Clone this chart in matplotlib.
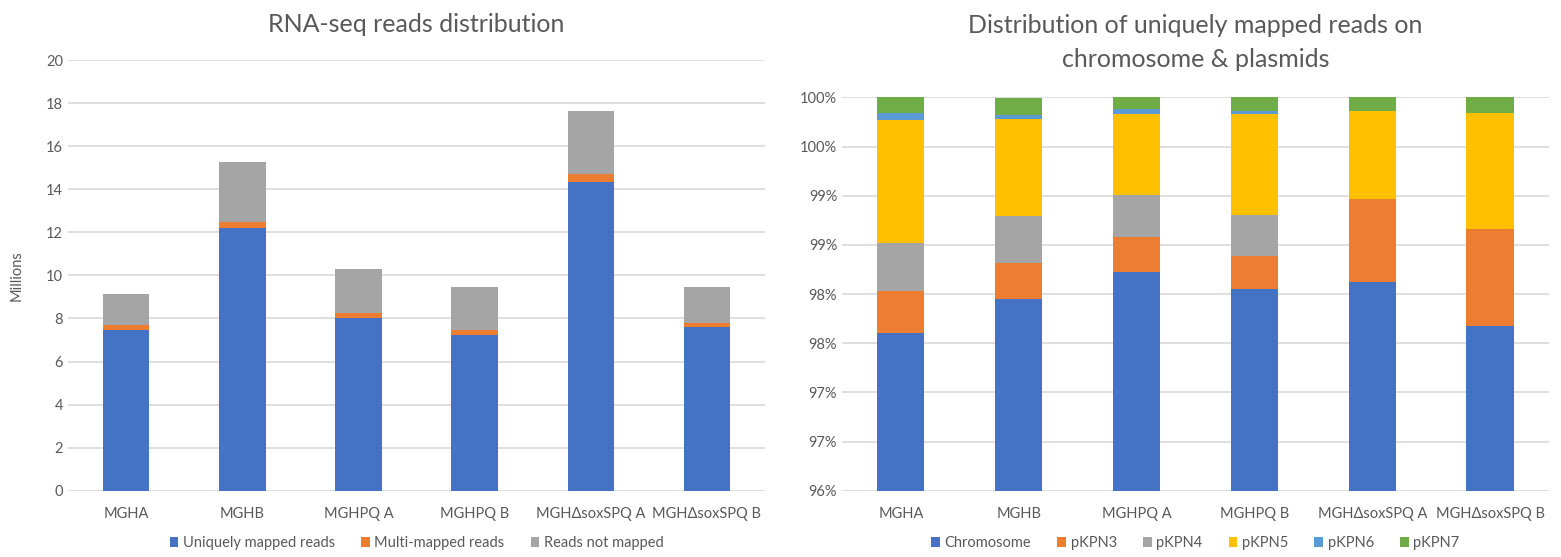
import numpy as np
import matplotlib
matplotlib.use('Agg')
import matplotlib.pyplot as plt
from matplotlib.ticker import FuncFormatter

plt.rcParams['font.family'] = ['Lato', 'DejaVu Sans']

# samples shared by both panels
samples = ['MGHA', 'MGHB', 'MGHPQ A', 'MGHPQ B', 'MGH\u0394soxSPQ A', 'MGH\u0394soxSPQ B']

# left panel: reads in millions
uniquely_mapped = [7.48, 12.21, 8.01, 7.25, 14.34, 7.60]
multi_mapped = [0.22, 0.28, 0.23, 0.23, 0.37, 0.17]
not_mapped = [1.42, 2.79, 2.07, 2.00, 2.94, 1.71]
reads_labels = ['Uniquely mapped reads', 'Multi-mapped reads', 'Reads not mapped']

# right panel: fraction of uniquely mapped reads
chromosome = [0.9760, 0.9795, 0.9822, 0.9805, 0.9812, 0.9768]
pkpn3 = [0.0043, 0.0037, 0.0036, 0.0034, 0.0085, 0.0098]
pkpn4 = [0.0049, 0.0047, 0.0043, 0.0041, 0.0000, 0.0000]
pkpn5 = [0.0125, 0.0099, 0.0082, 0.0103, 0.0089, 0.0118]
pkpn6 = [0.0007, 0.0004, 0.0005, 0.0003, 0.0000, 0.0000]
pkpn7 = [0.0016, 0.0017, 0.0012, 0.0014, 0.0014, 0.0016]
replicon_labels = ['Chromosome', 'pKPN3', 'pKPN4', 'pKPN5', 'pKPN6', 'pKPN7']

colors = ['#4472C4', '#ED7D31', '#A5A5A5', '#FFC000', '#5B9BD5', '#70AD47']
text_gray = '#595959'
grid_gray = '#D9D9D9'


def stacked(ax, series, labels):
    x = np.arange(len(samples))
    bottom = np.zeros(len(samples))
    for vals, lab, col in zip(series, labels, colors):
        ax.bar(x, vals, width=0.4, bottom=bottom, color=col, label=lab, zorder=3)
        bottom += np.array(vals)
    ax.set_xticks(x)
    ax.set_xticklabels(samples)
    ax.set_xlim(-0.5, len(samples) - 0.5)
    for s in ax.spines.values():
        s.set_visible(False)
    ax.tick_params(length=0, colors=text_gray, labelsize=10.5)
    ax.tick_params(axis='x', pad=12)
    ax.yaxis.grid(True, color=grid_gray, linewidth=1.2, zorder=0)
    pos = ax.get_position()
    fig.legend(*ax.get_legend_handles_labels(), loc='center',
               bbox_to_anchor=(pos.x0 + pos.width / 2, 0.025), ncol=len(labels),
               frameon=False, fontsize=10.5, handlelength=0.6, handleheight=0.6,
               handletextpad=0.3, columnspacing=1.8, labelcolor=text_gray)


fig = plt.figure(figsize=(15.61, 5.57), dpi=100)

ax1 = fig.add_axes([0.0436, 0.119, 0.4465, 0.773])
stacked(ax1, [uniquely_mapped, multi_mapped, not_mapped], reads_labels)
ax1.set_ylim(0, 20)
ax1.set_yticks(np.arange(0, 21, 2))
ax1.set_ylabel('Millions', color=text_gray, fontsize=10.5, labelpad=16)
ax1.set_title('RNA-seq reads distribution', color=text_gray, fontsize=18, pad=20)

ax2 = fig.add_axes([0.5394, 0.119, 0.4529, 0.706])
stacked(ax2, [chromosome, pkpn3, pkpn4, pkpn5, pkpn6, pkpn7], replicon_labels)
ax2.set_ylim(0.96, 1.0)
ax2.set_yticks(np.linspace(0.96, 1.0, 9))


def pct(v, pos):
    # Excel-style rounding, half up
    tenths = int(round(v * 1000))
    return f'{(tenths + 5) // 10}%'


ax2.yaxis.set_major_formatter(FuncFormatter(pct))
ax2.set_title('Distribution of uniquely mapped reads on\nchromosome & plasmids',
              color=text_gray, fontsize=18, pad=22, linespacing=1.55)

fig.savefig('out.png', dpi=100)
